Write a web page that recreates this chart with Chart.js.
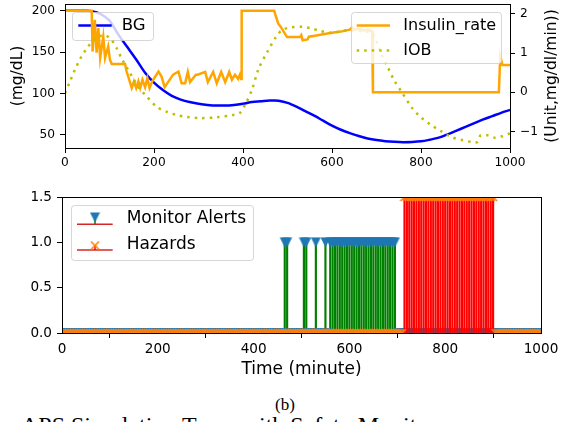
<!DOCTYPE html>
<html><head><meta charset="utf-8">
<script src="https://cdn.jsdelivr.net/npm/chart.js@4.4.1/dist/chart.umd.min.js"></script>
<style>
html,body{margin:0;padding:0;background:#fff;width:564px;height:422px;overflow:hidden}
body{position:relative}
.wrap{position:absolute;left:0}
.cap{position:absolute;font-family:"Liberation Serif","Times New Roman",serif;color:#000;white-space:nowrap}
</style></head><body>
<div class="wrap" style="top:0;width:564px;height:180px"><canvas id="c1" width="564" height="180"></canvas></div>
<div class="wrap" style="top:180px;width:564px;height:205px"><canvas id="c2" width="564" height="205"></canvas></div>
<div class="cap" style="left:275px;top:395.75px;font-size:17px;line-height:17px">(b)</div>
<div class="cap" style="left:-13px;top:413px;font-size:24px;line-height:24px">the APS Simulation Trace with Safety Monitor</div>
<script>
// ---------- top panel data ----------
const xTicks = [0, 200, 400, 600, 800, 1000];
const bgTicks = [50, 100, 150, 200];
const rateTicks = [-1, 0, 1, 2];

const bgTime = [0,50,60,80,100,120,140,160,180,200,220,240,260,280,300,320,340,360,380,400,420,440,460,470,480,500,520,540,560,580,600,620,640,660,680,700,720,740,760,780,800,820,840,860,880,900,920,940,960,980,1000];
const bgValue = [200,200,199.5,196,188,171,156,141,125,113,104,97,92.5,89.5,87.5,86,85.3,85.3,86,87.5,89.5,90.5,91.5,91.5,91,88.5,84,78.5,73,67,61,56,52,48.5,45.5,43.5,42.2,41.4,41,41.2,42,44,46.5,50.5,55,59.5,64,68.5,72.5,76.5,80];

const insulinTime = [0,60,62,67,71,75,79,86,90,97,101,105,135,138,150,155,160,165,169,174,180,185,190,196,210,217,224,243,255,262,270,276,281,294,298,315,321,333,341,351,360,369,375,382,389,393,396,397,470,479,485,499,528,531,534,545,548,565,580,600,620,640,645,650,660,670,680,690,692,975,978,983,1000];
const insulinRate = [2.08,2.08,1.04,1.85,1.01,1.64,0.88,1.42,0.88,1.17,0.83,0.72,0.72,0.55,0.11,0.28,0.11,0.28,0.11,0.32,0.13,0.36,0.11,0.28,0.53,0.40,0.13,0.45,0.53,0.23,0.23,0.52,0.26,0.45,0.45,0.52,0.26,0.52,0.23,0.52,0.26,0.52,0.32,0.45,0.34,0.45,0.34,2.08,2.08,1.76,1.67,1.41,1.41,1.46,1.33,1.35,1.42,1.45,1.48,1.52,1.55,1.60,1.66,1.60,1.62,1.58,1.60,1.56,0,0,0.92,0.70,0.70];

const iobTime = [0,11,22,35,49,64,80,92,105,116,127,142,153,164,184,206,229,251,274,303,341,378,393,406,420,435,455,474,488,509,535,551,573,596,618,636,656,678,690,700,712,725,740,757,780,800,822,846,870,892,915,927,934,950,966,980,1000];
const iobValue = [-0.02,0.27,0.57,0.87,1.12,1.33,1.44,1.45,1.33,1.13,0.87,0.57,0.36,0.14,-0.11,-0.37,-0.50,-0.58,-0.63,-0.66,-0.64,-0.58,-0.53,-0.29,0.06,0.60,1.04,1.41,1.59,1.66,1.67,1.64,1.57,1.52,1.55,1.59,1.57,1.55,1.50,1.30,0.95,0.65,0.30,0.00,-0.40,-0.64,-0.83,-1.00,-1.15,-1.22,-1.27,-1.27,-1.10,-1.10,-1.16,-1.13,-1.05];

// ---------- bottom panel data ----------
const flagTicks = [0, 0.5, 1.0, 1.5];
const alertTimes = [465,470,505,510,530,550,560,565,570,575,580,585,590,595,600,605,610,615,620,625,630,635,640,645,650,655,660,665,670,675,680,685,690,695];
const hazardTimes = [715,720,725,730,735,740,745,750,755,760,765,770,775,780,785,790,795,800,805,810,815,820,825,830,835,840,845,850,855,860,865,870,875,880,885,890,895,900];
const alertLevel = 1.0;
const hazardLevel = 1.5;
const sampleStep = 5;
const sampleTimes = [];
for (let t = 0; t <= 1000; t += sampleStep) sampleTimes.push(t);

const FONT = 'DejaVu Sans';
const pts = (xs, ys) => xs.map((x, i) => ({x, y: ys[i]}));
const fmtMinus = v => (v < 0 ? '\u2212' + Math.abs(v) : String(v));

function fixedTicks(list) { return s => { s.ticks = list.map(v => ({value: v})); }; }
function fitW(w) { return s => { s.width = w; s.paddingTop = 0; s.paddingBottom = 0; }; }
function fitH(h) { return s => { s.height = h; s.paddingLeft = 0; s.paddingRight = 0; }; }

function axisCommon(size, pad) {
  return {
    grid: {drawOnChartArea: false, drawTicks: true, tickLength: 5, tickWidth: 1, tickColor: '#000', color: '#000'},
    border: {display: true, color: '#000', width: 1},
    ticks: {font: {family: FONT, size: size}, color: '#000', padding: pad, autoSkip: false, maxRotation: 0, minRotation: 0}
  };
}

function legendBox(ctx, x, y, w, h) {
  const r = 3;
  ctx.save();
  ctx.beginPath();
  ctx.moveTo(x + r, y);
  ctx.lineTo(x + w - r, y); ctx.arcTo(x + w, y, x + w, y + r, r);
  ctx.lineTo(x + w, y + h - r); ctx.arcTo(x + w, y + h, x + w - r, y + h, r);
  ctx.lineTo(x + r, y + h); ctx.arcTo(x, y + h, x, y + h - r, r);
  ctx.lineTo(x, y + r); ctx.arcTo(x, y, x + r, y, r);
  ctx.closePath();
  ctx.fillStyle = 'rgba(255,255,255,0.8)';
  ctx.fill();
  ctx.strokeStyle = 'rgba(204,204,204,0.8)';
  ctx.lineWidth = 1;
  ctx.stroke();
  ctx.restore();
}
function frame(chart) {
  const a = chart.chartArea, ctx = chart.ctx;
  ctx.save();
  ctx.strokeStyle = '#000'; ctx.lineWidth = 1;
  ctx.strokeRect(Math.round(a.left) + 0.5, Math.round(a.top) + 0.5, Math.round(a.right) - Math.round(a.left), Math.round(a.bottom) - Math.round(a.top));
  ctx.restore();
}
function text(ctx, s, x, y, size, opts) {
  ctx.save();
  ctx.font = size + 'px "' + FONT + '"';
  ctx.fillStyle = '#000';
  ctx.textBaseline = 'middle';
  ctx.textAlign = (opts && opts.align) || 'left';
  ctx.translate(x, y);
  if (opts && opts.rot) ctx.rotate(opts.rot);
  ctx.fillText(s, 0, 0);
  ctx.restore();
}
function hLine(ctx, x1, x2, y, color, w, dash) {
  ctx.save();
  ctx.strokeStyle = color; ctx.lineWidth = w; ctx.lineCap = 'butt';
  if (dash) ctx.setLineDash(dash);
  ctx.beginPath(); ctx.moveTo(x1, y); ctx.lineTo(x2, y); ctx.stroke();
  ctx.restore();
}

// ---------- top chart ----------
const topPlugin = {
  id: 'topDecor',
  afterDatasetDraw(chart, args) {
    if (args.index === 0) {
      const ctx = chart.ctx;
      legendBox(ctx, 72.5, 12.5, 81, 28);
      hLine(ctx, 78.3, 111.7, 25.5, '#0000ff', 2.5);
      text(ctx, 'BG', 121.7, 25.5, 16.5);
    }
  },
  afterDatasetsDraw(chart) {
    const ctx = chart.ctx;
    frame(chart);
    legendBox(ctx, 351.5, 12.5, 150, 51);
    hLine(ctx, 356.7, 390, 25.5, '#ffa500', 2.5);
    text(ctx, 'Insulin_rate', 403.3, 25.5, 16);
    hLine(ctx, 356.7, 390, 50.5, '#bfbf00', 2.5, [2.5, 5]);
    text(ctx, 'IOB', 403.3, 50.5, 16);
    text(ctx, '(mg/dL)', 17.5, 76, 15.5, {align: 'center', rot: -Math.PI / 2});
    text(ctx, '(Unit,mg/dl/min))', 551.5, 76, 15.5, {align: 'center', rot: -Math.PI / 2});
  }
};

new Chart(document.getElementById('c1'), {
  type: 'line',
  data: {
    datasets: [
      {label: 'BG', data: pts(bgTime, bgValue), yAxisID: 'y', borderColor: '#0000ff', borderWidth: 2.5,
       pointRadius: 0, cubicInterpolationMode: 'monotone', order: 3, clip: 0, fill: false},
      {label: 'Insulin_rate', data: pts(insulinTime, insulinRate), yAxisID: 'y2', borderColor: '#ffa500', borderWidth: 2.5,
       pointRadius: 0, tension: 0, order: 2, clip: 0, fill: false, borderJoinStyle: 'miter'},
      {label: 'IOB', data: pts(iobTime, iobValue), yAxisID: 'y2', borderColor: '#bfbf00', borderWidth: 2.5,
       borderDash: [2.5, 5], borderCapStyle: 'butt', pointRadius: 0, tension: 0.3, order: 1, clip: 0, fill: false}
    ]
  },
  options: {
    responsive: false, animation: false, events: [],
    layout: {padding: {top: 4, left: 0, right: 0, bottom: 0}},
    plugins: {legend: {display: false}, tooltip: {enabled: false}},
    scales: {
      x: Object.assign(axisCommon(12.2, 3), {type: 'linear', position: 'bottom', min: 0, max: 1000,
          afterBuildTicks: fixedTicks(xTicks), afterFit: fitH(32)}),
      y: Object.assign(axisCommon(12.2, 5), {type: 'linear', position: 'left', min: 33.95, max: 208.1,
          afterBuildTicks: fixedTicks(bgTicks), afterFit: fitW(65)}),
      y2: Object.assign(axisCommon(12.2, 5), {type: 'linear', position: 'right', min: -1.423, max: 2.255,
          afterBuildTicks: fixedTicks(rateTicks), afterFit: fitW(54)})
    }
  },
  plugins: [topPlugin]
});
(function () {
  const ch = Chart.getChart('c1');
  ch.options.scales.x.ticks.callback = v => String(v);
  ch.options.scales.y.ticks.callback = v => String(v);
  ch.options.scales.y2.ticks.callback = v => fmtMinus(v);
  ch.update();
})();

// ---------- bottom chart ----------
function makeTri() {
  const c = document.createElement('canvas'); c.width = 11; c.height = 11;
  const g = c.getContext('2d');
  g.fillStyle = '#1f77b4';
  g.beginPath(); g.moveTo(0.5, 0.5); g.lineTo(10.5, 0.5); g.lineTo(5.5, 10.5); g.closePath(); g.fill();
  return c;
}
function makeX() {
  const c = document.createElement('canvas'); c.width = 10; c.height = 10;
  const g = c.getContext('2d');
  g.strokeStyle = '#ff7f0e'; g.lineWidth = 1.6;
  g.beginPath(); g.moveTo(1, 1); g.lineTo(9, 9); g.moveTo(9, 1); g.lineTo(1, 9); g.stroke();
  return c;
}
const triImg = makeTri();
const xImg = makeX();

const botPlugin = {
  id: 'botDecor',
  afterDatasetsDraw(chart) {
    const ctx = chart.ctx;
    frame(chart);
    legendBox(ctx, 71.5, 25.5, 182, 55);
    hLine(ctx, 77, 112.7, 44.3, '#d62728', 1.5);
    ctx.save(); ctx.strokeStyle = '#008000'; ctx.lineWidth = 1.5;
    ctx.beginPath(); ctx.moveTo(95, 44.3); ctx.lineTo(95, 37.5); ctx.stroke(); ctx.restore();
    ctx.drawImage(triImg, 95 - 5.5, 37.5 - 5.5);
    text(ctx, 'Monitor Alerts', 126.7, 38.3, 17);
    hLine(ctx, 77, 112.7, 70, '#d62728', 1.5);
    ctx.save(); ctx.strokeStyle = '#ff0000'; ctx.lineWidth = 1.5;
    ctx.beginPath(); ctx.moveTo(95, 70); ctx.lineTo(95, 65.5); ctx.stroke(); ctx.restore();
    ctx.drawImage(xImg, 95 - 5, 65.5 - 5);
    text(ctx, 'Hazards', 126.7, 64.3, 17);
    text(ctx, 'Time (minute)', 301.5, 190, 17, {align: 'center'});
  }
};

new Chart(document.getElementById('c2'), {
  type: 'bar',
  data: {
    datasets: [
      {type: 'bar', label: 'alert stems', data: alertTimes.map(t => ({x: t, y: alertLevel})),
       backgroundColor: '#008000', borderWidth: 0, barThickness: 1.5, grouped: false, order: 4, clip: 0},
      {type: 'scatter', label: 'Monitor Alerts', data: sampleTimes.map(t => ({x: t, y: alertTimes.includes(t) ? alertLevel : 0})),
       pointStyle: triImg, pointRadius: 5, showLine: false, order: 3, clip: 0},
      {type: 'bar', label: 'hazard stems', data: hazardTimes.map(t => ({x: t, y: hazardLevel})),
       backgroundColor: '#ff0000', borderWidth: 0, barThickness: 1.5, grouped: false, order: 2, clip: 0},
      {type: 'scatter', label: 'Hazards', data: sampleTimes.map(t => ({x: t, y: hazardTimes.includes(t) ? hazardLevel : 0})),
       pointStyle: xImg, pointRadius: 5, showLine: false, order: 1, clip: 0}
    ]
  },
  options: {
    responsive: false, animation: false, events: [],
    layout: {padding: {top: 17, left: 0, right: 23, bottom: 0}},
    plugins: {legend: {display: false}, tooltip: {enabled: false}},
    scales: {
      x: Object.assign(axisCommon(13.6, 3.5), {type: 'linear', position: 'bottom', min: 0, max: 1000, offset: false,
          afterBuildTicks: fixedTicks(xTicks), afterFit: fitH(52)}),
      y: Object.assign(axisCommon(13.6, 5), {type: 'linear', position: 'left', min: 0, max: 1.5,
          afterBuildTicks: fixedTicks(flagTicks), afterFit: fitW(62)})
    }
  },
  plugins: [botPlugin]
});
(function () {
  const ch = Chart.getChart('c2');
  ch.options.scales.x.ticks.callback = v => String(v);
  ch.options.scales.y.ticks.callback = v => Number(v).toFixed(1);
  ch.update();
})();
</script>
</body></html>
